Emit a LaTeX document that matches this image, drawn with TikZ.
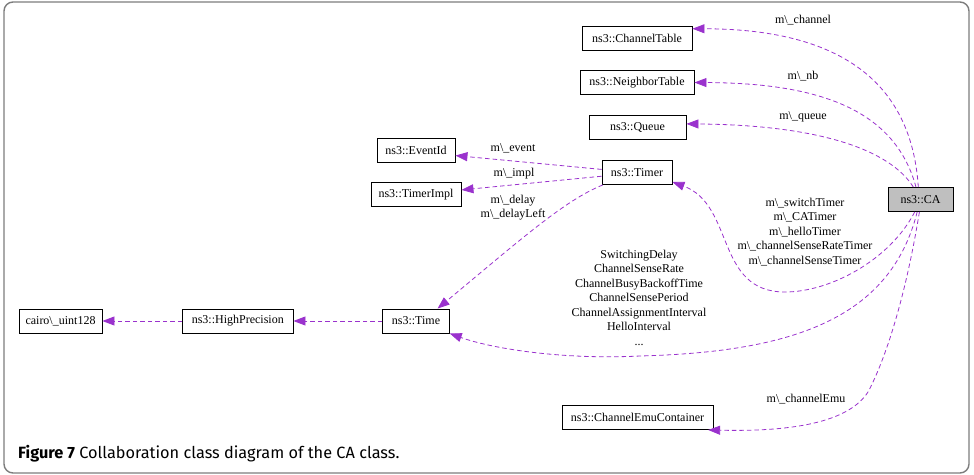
\documentclass[tikz,border=0pt]{standalone}
\usepackage{fontspec}
\setmainfont{Liberation Serif}
\newfontfamily\captionfont{Fira Sans}
\usetikzlibrary{arrows.meta}

\definecolor{edgepurple}{RGB}{154,50,205}
\definecolor{cagray}{RGB}{191,191,191}
\definecolor{framegray}{RGB}{125,125,125}

\newcommand{\memb}[1]{m\textbackslash\_#1}

\tikzstyle{classbox} = [rectangle, draw=black, line width=0.9pt, minimum height=24pt, inner sep=0pt, font=\fontsize{12}{14.5}\selectfont]
\tikzstyle{edgelabel} = [align=center, inner sep=0pt, font=\fontsize{12}{14.5}\selectfont]
\tikzstyle{arrow} = [edgepurple, line width=0.8pt, dash pattern=on 4.5pt off 3pt, -{Triangle[length=12pt,width=9pt]}]

\begin{document}
\begin{tikzpicture}[x=1pt,y=-1pt]

\useasboundingbox (0,0) rectangle (974,474);
\draw [framegray, line width=1.4pt, rounded corners=9pt] (4,2) rectangle (969,473);

% classes
\node (chtable) [classbox, minimum width=110pt] at (637,38.5) {ns3::ChannelTable};
\node (nbtable) [classbox, minimum width=114pt] at (637,82.5) {ns3::NeighborTable};
\node (queue) [classbox, minimum width=97pt] at (637.5,127.3) {ns3::Queue};
\node (timer) [classbox, minimum width=70pt] at (637,172.5) {ns3::Timer};
\node (eventid) [classbox, minimum width=78pt] at (416,150) {ns3::EventId};
\node (timerimpl) [classbox, minimum width=90pt] at (416,194.7) {ns3::TimerImpl};
\node (ca) [classbox, minimum width=65pt, fill=cagray] at (920.5,199.5) {ns3::CA};
\node (time) [classbox, minimum width=66.5pt] at (416,321) {ns3::Time};
\node (hp) [classbox, minimum width=110.5pt] at (237.75,321) {ns3::HighPrecision};
\node (cairo) [classbox, minimum width=83pt] at (60.5,321) {cairo\textbackslash\_uint128};
\node (chemu) [classbox, minimum width=151pt] at (637.5,417.5) {ns3::ChannelEmuContainer};

% member labels
\node (lchannel) [edgelabel] at (803,20.5) {\memb{channel}};
\node (lnb) [edgelabel] at (803,76) {\memb{nb}};
\node (lqueue) [edgelabel] at (803,117) {\memb{queue}};
\node (levent) [edgelabel] at (513,148.5) {\memb{event}};
\node (limpl) [edgelabel] at (514,173.5) {\memb{impl}};
\node (ldelay) [edgelabel] at (513,207.5) {\memb{delay}\\\memb{delayLeft}};
\node (ltimers) [edgelabel] at (805,232) {\memb{switchTimer}\\\memb{CATimer}\\\memb{helloTimer}\\\memb{channelSenseRateTimer}\\\memb{channelSenseTimer}};
\node (lattr) [edgelabel] at (639,297.5) {SwitchingDelay\\ChannelSenseRate\\ChannelBusyBackoffTime\\ChannelSensePeriod\\ChannelAssignmentInterval\\HelloInterval\\...};
\node (lemu) [edgelabel] at (806,399) {\memb{channelEmu}};

% usage edges
\draw [arrow] (ca.100) .. controls (912,90) and (850,29) .. (chtable.10);
\draw [arrow] (ca.110) .. controls (895,110) and (820,83) .. (nbtable.east);
\draw [arrow] (ca.120) .. controls (890,150) and (820,125) .. (queue.4);
\draw [arrow] (ca.245) .. controls (890,260) and (830,292) .. (785,292)
  .. controls (715,292) and (735,205) .. (timer.-15);
\draw [arrow] (ca.255) .. controls (890,320) and (790,352) .. (640,356)
  .. controls (560,360) and (490,348) .. (time.south east);
\draw [arrow] (ca.265) .. controls (905,300) and (885,360) .. (868,392)
  .. controls (850,420) and (800,432) .. (chemu.-10);
\draw [arrow] (timer.175) -- (eventid.-8);
\draw [arrow] (timer.186) -- (timerimpl.6);
\draw [arrow] (timer.200) .. controls (565,200) and (520,240) .. (time.30);
\draw [arrow] (time.west) -- (hp.east);
\draw [arrow] (hp.west) -- (cairo.east);

% caption
\node (caption) [anchor=base west, inner sep=0pt, font=\captionfont\fontsize{16.3}{18}\selectfont] at (18,458.5) {\textbf{Figure 7} Collaboration class diagram of the CA class.};

\end{tikzpicture}
\end{document}
